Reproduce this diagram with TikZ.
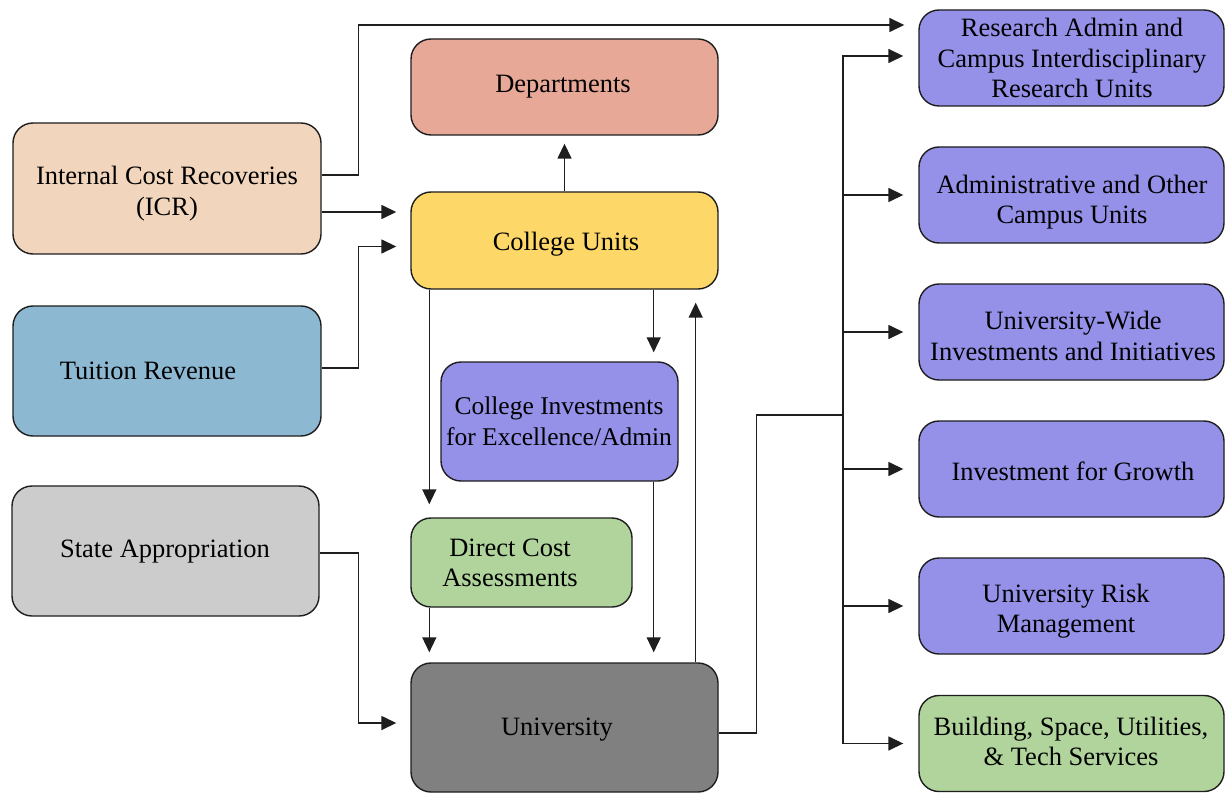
\documentclass[tikz,border=0pt]{standalone}
\usepackage{fontspec}
\setmainfont{Liberation Serif}
\usetikzlibrary{arrows.meta,calc}
\definecolor{cicr}{RGB}{241,213,188}
\definecolor{ctui}{RGB}{141,184,210}
\definecolor{cstate}{RGB}{204,204,204}
\definecolor{cdept}{RGB}{232,168,152}
\definecolor{ccoll}{RGB}{253,216,104}
\definecolor{cpurp}{RGB}{149,145,233}
\definecolor{cgreen}{RGB}{176,212,156}
\definecolor{cuni}{RGB}{128,128,128}
\definecolor{cline}{RGB}{30,30,30}
\begin{document}
\begin{tikzpicture}[x=1pt,y=-1pt,
  box/.style={draw=cline, line width=1.4pt, rounded corners=20pt, inner sep=0pt},
  lbl/.style={align=center, inner sep=0pt, font=\fontsize{26.5}{30.5}\selectfont},
  conn/.style={line width=1.5pt, draw=cline},
  arr/.style={conn, -{Triangle[length=15pt,width=14pt]}}]
\useasboundingbox (0,0) rectangle (1225,794);
\fill[white] (0,0) rectangle (1225,794);
% left sources
\node[box, fill=cicr, minimum width=308pt, minimum height=131pt] (icr) at (167,188.5) {};
\node[lbl] (icrl) at (167,193.5) {Internal Cost Recoveries\\(ICR)};
\node[box, fill=ctui, minimum width=308pt, minimum height=130pt] (tui) at (167,371) {};
\node[lbl] (tuil) at (148,371) {Tuition Revenue};
\node[box, fill=cstate, minimum width=307pt, minimum height=130pt] (st) at (165.5,551) {};
\node[lbl] (stl) at (165,552) {State Appropriation};
% middle column
\node[box, fill=cdept, minimum width=307pt, minimum height=96pt] (dept) at (564.5,87) {};
\node[lbl] (deptl) at (563,87) {Departments};
\node[box, fill=ccoll, minimum width=307pt, minimum height=97pt] (cu) at (564.5,240.5) {};
\node[lbl] (cul) at (566,244.5) {College Units};
\node[box, fill=cpurp, minimum width=237pt, minimum height=119pt] (ci) at (559.5,421.5) {};
\node[lbl, font=\fontsize{25.5}{30.5}\selectfont] (cil) at (559,421.5) {College Investments\\for Excellence/Admin};
\node[box, fill=cgreen, minimum width=221pt, minimum height=89pt] (dc) at (521.5,562.5) {};
\node[lbl] (dcl) at (510,563) {Direct Cost\\Assessments};
\node[box, fill=cuni, minimum width=307pt, minimum height=129pt] (uni) at (564.5,727.5) {};
\node[lbl] (unil) at (557,729.5) {University};
% right column
\node[box, fill=cpurp, minimum width=305pt, minimum height=96pt] (rab) at (1071.5,58) {};
\node[lbl] (rabl) at (1072,58) {Research Admin and\\Campus Interdisciplinary\\Research Units};
\node[box, fill=cpurp, minimum width=305pt, minimum height=96pt] (adm) at (1071.5,195) {};
\node[lbl] (adml) at (1072,202) {Administrative and Other\\Campus Units};
\node[box, fill=cpurp, minimum width=305pt, minimum height=96pt] (uw) at (1071.5,332) {};
\node[lbl] (uwl) at (1073,336) {University-Wide\\Investments and Initiatives};
\node[box, fill=cpurp, minimum width=305pt, minimum height=96pt] (ifg) at (1071.5,469) {};
\node[lbl] (ifgl) at (1073,471) {Investment for Growth};
\node[box, fill=cpurp, minimum width=305pt, minimum height=96pt] (risk) at (1071.5,606) {};
\node[lbl] (riskl) at (1066,611) {University Risk\\Management};
\node[box, fill=cgreen, minimum width=305pt, minimum height=96pt] (bld) at (1071.5,743.5) {};
\node[lbl] (bldl) at (1071,741.5) {Building, Space, Utilities,\\\& Tech Services};
% connectors from sources
\draw[arr, shorten >=14pt] ([yshift=13.5pt]icr.east) -- ++(37,0) |- ([yshift=33pt]rab.west);
\draw[arr, shorten >=14pt] ([yshift=-23.5pt]icr.east) -- ([yshift=28.5pt]cu.west);
\draw[arr, shorten >=14pt] ([yshift=3pt]tui.east) -- ++(37,0) |- ([yshift=-6pt]cu.west);
\draw[arr, shorten >=14pt] ([yshift=-2pt]st.east) -- ++(39,0) |- ([yshift=4.5pt]uni.west);
% middle connectors
\draw[arr, shorten >=8pt] (cu.north) -- (dept.south);
\draw[arr, shorten >=13pt] ([xshift=19pt]cu.south west) -- ([xshift=19pt]dc.north west);
\draw[arr, shorten >=9pt] ([xshift=-65pt]cu.south east) -- ([xshift=-25pt]ci.north east);
\draw[arr, shorten >=10pt] ([xshift=-25pt]ci.south east) -- ([xshift=-65pt]uni.north east);
\draw[arr, shorten >=10pt] ([xshift=19pt]dc.south west) -- ([xshift=19pt]uni.north west);
\draw[arr, shorten >=13pt] ([xshift=-23pt]uni.north east) -- ([xshift=-23pt]cu.south east);
% distribution bus
\coordinate (j) at (843,415);
\draw[conn] ([yshift=-5.5pt]uni.east) -- ++(38,0) |- (j);
\draw[arr, shorten >=15pt] (j) |- ([yshift=2pt]rab.west);
\draw[arr, shorten >=15pt] (j) |- (bld.west);
\draw[arr, shorten >=15pt] (adm.west -| j) -- (adm.west);
\draw[arr, shorten >=15pt] (uw.west -| j) -- (uw.west);
\draw[arr, shorten >=15pt] (ifg.west -| j) -- (ifg.west);
\draw[arr, shorten >=15pt] (risk.west -| j) -- (risk.west);
\end{tikzpicture}
\end{document}
